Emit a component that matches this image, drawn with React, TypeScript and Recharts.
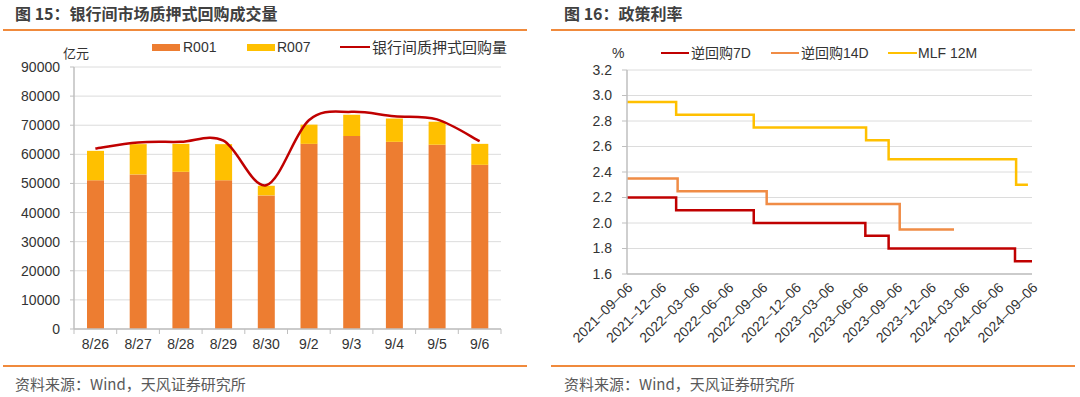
import React from 'react';
import { ComposedChart, LineChart, Bar, Line, XAxis, YAxis, CartesianGrid } from 'recharts';

// ---------- Figure 15 data ----------
const repoDates = ['8/26', '8/27', '8/28', '8/29', '8/30', '9/2', '9/3', '9/4', '9/5', '9/6'];
const r001Values = [51100, 53100, 54000, 51100, 45900, 63600, 66300, 64300, 63300, 56400];
const r007Values = [10100, 10400, 9600, 12400, 3300, 6600, 7300, 8000, 7900, 7200];
const repoTotalValues = [62000, 64100, 64300, 64700, 49400, 71700, 74600, 73100, 72000, 64500];
const volumeTicks = [0, 10000, 20000, 30000, 40000, 50000, 60000, 70000, 80000, 90000];

// ---------- Figure 16 data ----------
const rr7dDates = ['2021-09-06', '2022-01-17', '2022-08-15', '2023-06-13', '2023-08-15', '2024-07-22', '2024-09-06'];
const rr7dValues = [2.2, 2.1, 2.0, 1.9, 1.8, 1.7, 1.7];
const rr14dDates = ['2021-09-06', '2022-01-21', '2022-09-19', '2023-09-14', '2024-02-08'];
const rr14dValues = [2.35, 2.25, 2.15, 1.95, 1.95];
const mlfDates = ['2021-09-06', '2022-01-17', '2022-08-15', '2023-06-15', '2023-08-15', '2024-07-25', '2024-08-26'];
const mlfValues = [2.95, 2.85, 2.75, 2.65, 2.5, 2.3, 2.3];
const rateTickDates = [
  '2021-09-06', '2021-12-06', '2022-03-06', '2022-06-06', '2022-09-06', '2022-12-06', '2023-03-06',
  '2023-06-06', '2023-09-06', '2023-12-06', '2024-03-06', '2024-06-06', '2024-09-06',
];
const rateTicks = [1.6, 1.8, 2.0, 2.2, 2.4, 2.6, 2.8, 3.0, 3.2];

// ---------- helpers ----------
const toTs = (s: string) => {
  const [y, m, d] = s.split('-').map(Number);
  return Date.UTC(y, m - 1, d);
};
const fmtDate = (ts: number) => {
  const d = new Date(ts);
  const p = (n: number) => String(n).padStart(2, '0');
  return `${d.getUTCFullYear()}–${p(d.getUTCMonth() + 1)}–${p(d.getUTCDate())}`;
};

const repoData = repoDates.map((d, i) => ({
  date: d,
  r001: r001Values[i],
  r007: r007Values[i],
  total: repoTotalValues[i],
}));
const buildSeries = (dates: string[], vals: number[]) => dates.map((d, i) => ({ t: toTs(d), v: vals[i] }));
const rr7dData = buildSeries(rr7dDates, rr7dValues);
const rr14dData = buildSeries(rr14dDates, rr14dValues);
const mlfData = buildSeries(mlfDates, mlfValues);
const rateTickTs = rateTickDates.map(toTs);

// Excel-like smoothed line (Catmull-Rom through the points)
const smoothCurve: any = (context: any) => {
  let pts: number[][] = [];
  return {
    areaStart() {},
    areaEnd() {},
    lineStart() {
      pts = [];
    },
    point(x: number, y: number) {
      pts.push([+x, +y]);
    },
    lineEnd() {
      const n = pts.length;
      if (!n) return;
      context.moveTo(pts[0][0], pts[0][1]);
      for (let i = 0; i < n - 1; i++) {
        const p0 = pts[Math.max(i - 1, 0)];
        const p1 = pts[i];
        const p2 = pts[i + 1];
        const p3 = pts[Math.min(i + 2, n - 1)];
        context.bezierCurveTo(
          p1[0] + (p2[0] - p0[0]) / 6,
          p1[1] + (p2[1] - p0[1]) / 6,
          p2[0] - (p3[0] - p1[0]) / 6,
          p2[1] - (p3[1] - p1[1]) / 6,
          p2[0],
          p2[1],
        );
      }
    },
  };
};

const LATIN = '"Liberation Sans", Arial, "Noto Sans CJK SC", sans-serif';
const CJK = '"Noto Sans CJK SC", "Liberation Sans", sans-serif';
const AXIS_GRAY = '#BFBFBF';
const TEXT = '#333333';

const L_W = 540;
const L_H = 360;
const L_MARGIN = { top: 67, right: 39, bottom: 0, left: 14 };
const L_YW = 60;
const L_PLOT_W = L_W - L_MARGIN.left - L_MARGIN.right - L_YW;

const CatTick = (props: any) => {
  const { x, y, payload, index } = props;
  const step = L_PLOT_W / repoDates.length;
  return (
    <g>
      <line x1={x - step / 2} x2={x - step / 2} y1={y} y2={y + 5} stroke={AXIS_GRAY} strokeWidth={1} />
      {index === repoDates.length - 1 && (
        <line x1={x + step / 2} x2={x + step / 2} y1={y} y2={y + 5} stroke={AXIS_GRAY} strokeWidth={1} />
      )}
      <text x={x} y={y + 15} textAnchor="middle" dominantBaseline="central" fontSize={14} fontFamily={LATIN} fill={TEXT}>
        {payload.value}
      </text>
    </g>
  );
};

const DateTick = (props: any) => {
  const { x, y, payload } = props;
  const ax = x + 3;
  const ay = y + 11;
  return (
    <text
      x={ax}
      y={ay}
      transform={`rotate(-45, ${ax}, ${ay})`}
      textAnchor="end"
      dominantBaseline="central"
      fontSize={14}
      fontFamily={LATIN}
      fill={TEXT}
    >
      {fmtDate(payload.value)}
    </text>
  );
};

const abs = (style: React.CSSProperties): React.CSSProperties => ({ position: 'absolute', ...style });

const LegendText = ({ x, y, children, size = 14 }: { x: number; y: number; children: React.ReactNode; size?: number }) => (
  <div style={abs({ left: x, top: y, transform: 'translateY(-50%)', fontSize: size, fontFamily: LATIN, color: TEXT, whiteSpace: 'nowrap', lineHeight: 1 })}>
    {children}
  </div>
);
const SwatchRect = ({ x, y, w, h, color }: { x: number; y: number; w: number; h: number; color: string }) => (
  <div style={abs({ left: x, top: y - h / 2, width: w, height: h, background: color })} />
);

export default function App() {
  return (
    <div style={abs({ left: 0, top: 0, width: 1080, height: 397, background: '#ffffff', overflow: 'hidden' })}>
      {/* ===== Left panel ===== */}
      <div style={abs({ left: 15, top: 13, transform: 'translateY(-50%)', fontSize: 16, fontWeight: 700, fontFamily: CJK, color: '#404040', whiteSpace: 'nowrap', lineHeight: 1 })}>
        图 15：银行间市场质押式回购成交量
      </div>
      <div style={abs({ left: 3, top: 29, width: 524, height: 2, background: '#F08A3C' })} />
      <div style={abs({ left: 0, top: 0 })}>
        <ComposedChart width={L_W} height={L_H} data={repoData} margin={L_MARGIN}>
          <CartesianGrid vertical={false} stroke="#DCDCDC" strokeWidth={1} />
          <XAxis
            dataKey="date"
            height={31}
            tick={<CatTick />}
            tickLine={false}
            tickSize={0}
            tickMargin={0}
            axisLine={{ stroke: AXIS_GRAY, strokeWidth: 1.5 }}
            interval={0}
          />
          <YAxis
            width={L_YW}
            domain={[0, 90000]}
            ticks={volumeTicks}
            interval={0}
            tickSize={4}
            tickMargin={10}
            tickLine={{ stroke: AXIS_GRAY }}
            axisLine={{ stroke: AXIS_GRAY, strokeWidth: 1.5 }}
            tick={{ fontSize: 14, fontFamily: LATIN, fill: TEXT }}
          />
          <Bar dataKey="r001" stackId="a" fill="#ED7D31" barSize={17} isAnimationActive={false} />
          <Bar dataKey="r007" stackId="a" fill="#FFC000" barSize={17} isAnimationActive={false} />
          <Line dataKey="total" type={smoothCurve} stroke="#C00000" strokeWidth={2.5} dot={false} activeDot={false} isAnimationActive={false} />
        </ComposedChart>
      </div>
      <LegendText x={63} y={53} size={13}>亿元</LegendText>
      <SwatchRect x={152} y={47} w={28} h={7} color="#ED7D31" />
      <LegendText x={183} y={47}>R001</LegendText>
      <SwatchRect x={247} y={47} w={28} h={7} color="#FFC000" />
      <LegendText x={277} y={47}>R007</LegendText>
      <SwatchRect x={340} y={47} w={30} h={2.5} color="#C00000" />
      <LegendText x={372} y={47} size={15}>银行间质押式回购量</LegendText>
      <div style={abs({ left: 3, top: 365, width: 524, height: 2, background: '#F08A3C' })} />
      <div style={abs({ left: 15, top: 383, transform: 'translateY(-50%)', fontSize: 15, fontFamily: CJK, color: '#595959', whiteSpace: 'nowrap', lineHeight: 1 })}>
        资料来源：Wind，天风证券研究所
      </div>

      {/* ===== Right panel ===== */}
      <div style={abs({ left: 564, top: 13, transform: 'translateY(-50%)', fontSize: 16, fontWeight: 700, fontFamily: CJK, color: '#404040', whiteSpace: 'nowrap', lineHeight: 1 })}>
        图 16：政策利率
      </div>
      <div style={abs({ left: 551, top: 29, width: 524, height: 2, background: '#F08A3C' })} />
      <div style={abs({ left: 540, top: 0 })}>
        <LineChart width={540} height={360} margin={{ top: 70, right: 48, bottom: 0, left: 12 }}>
          <CartesianGrid vertical={false} stroke="#DCDCDC" strokeWidth={1} />
          <XAxis
            type="number"
            dataKey="t"
            domain={[rateTickTs[0], rateTickTs[rateTickTs.length - 1]]}
            ticks={rateTickTs}
            interval={0}
            height={86}
            tick={<DateTick />}
            tickLine={false}
            tickSize={0}
            tickMargin={0}
            axisLine={{ stroke: AXIS_GRAY, strokeWidth: 1.5 }}
            allowDataOverflow
          />
          <YAxis
            width={75}
            domain={[1.6, 3.2]}
            ticks={rateTicks}
            interval={0}
            tickSize={5}
            tickMargin={10}
            tickFormatter={(v: number) => v.toFixed(1)}
            tickLine={{ stroke: AXIS_GRAY }}
            axisLine={{ stroke: AXIS_GRAY, strokeWidth: 1.5 }}
            tick={{ fontSize: 14, fontFamily: LATIN, fill: TEXT }}
          />
          <Line data={mlfData} dataKey="v" type="stepAfter" stroke="#FFC000" strokeWidth={2.5} dot={false} activeDot={false} isAnimationActive={false} />
          <Line data={rr14dData} dataKey="v" type="stepAfter" stroke="#F08C46" strokeWidth={2.5} dot={false} activeDot={false} isAnimationActive={false} />
          <Line data={rr7dData} dataKey="v" type="stepAfter" stroke="#C00000" strokeWidth={2.5} dot={false} activeDot={false} isAnimationActive={false} />
        </LineChart>
      </div>
      <LegendText x={612} y={53}>%</LegendText>
      <SwatchRect x={661} y={53} w={28} h={2.5} color="#C00000" />
      <LegendText x={691} y={53}>逆回购7D</LegendText>
      <SwatchRect x={771} y={53} w={28} h={2.5} color="#F08C46" />
      <LegendText x={801} y={53}>逆回购14D</LegendText>
      <SwatchRect x={888} y={53} w={29} h={2.5} color="#FFC000" />
      <LegendText x={918} y={53}>MLF 12M</LegendText>
      <div style={abs({ left: 551, top: 365, width: 524, height: 2, background: '#F08A3C' })} />
      <div style={abs({ left: 564, top: 383, transform: 'translateY(-50%)', fontSize: 15, fontFamily: CJK, color: '#595959', whiteSpace: 'nowrap', lineHeight: 1 })}>
        资料来源：Wind，天风证券研究所
      </div>
    </div>
  );
}
